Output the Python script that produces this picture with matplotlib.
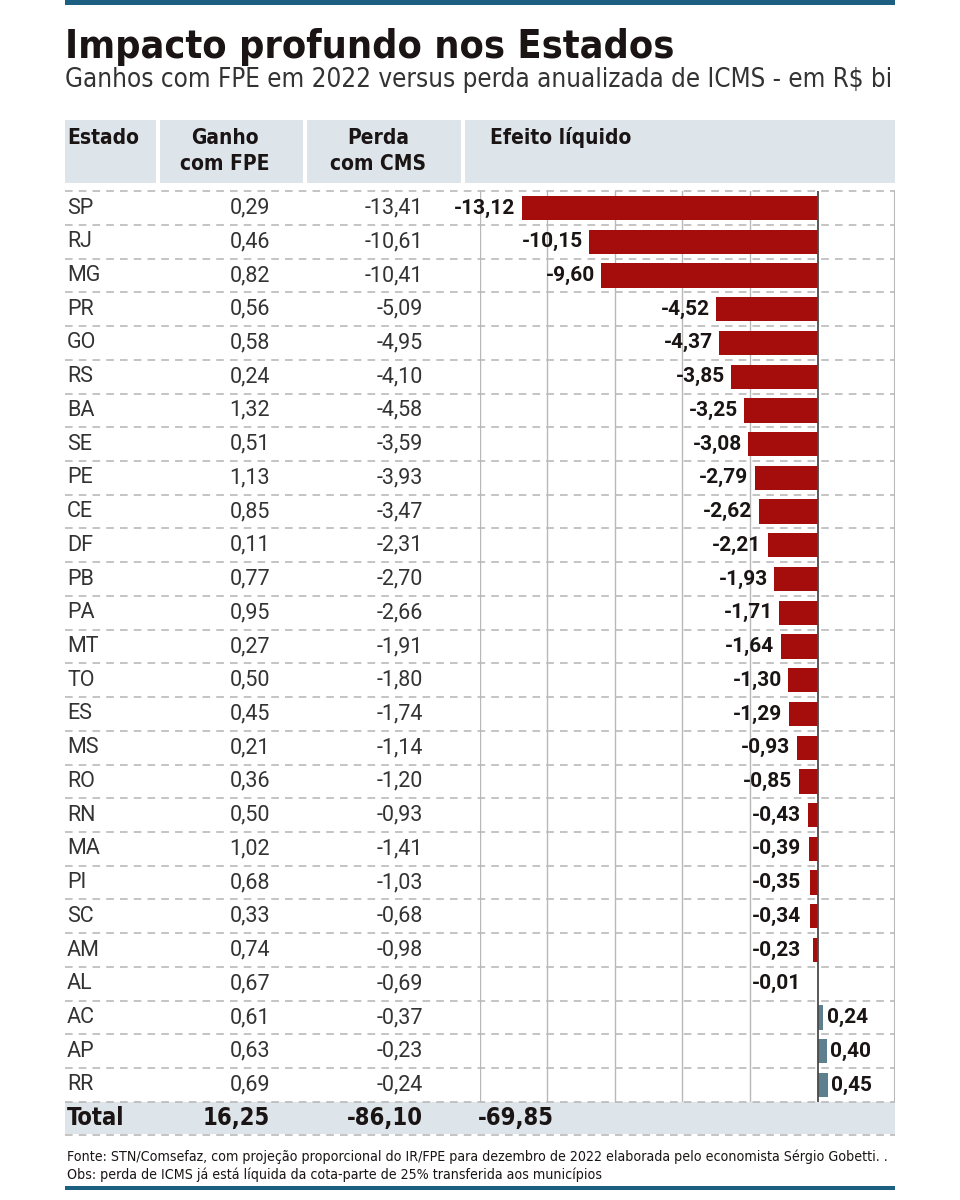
import matplotlib
matplotlib.use("Agg")
import matplotlib.pyplot as plt
import matplotlib.font_manager as fm
from matplotlib.patches import Rectangle

# ---------------- data ----------------
estados = ["SP", "RJ", "MG", "PR", "GO", "RS", "BA", "SE", "PE", "CE", "DF", "PB", "PA", "MT",
           "TO", "ES", "MS", "RO", "RN", "MA", "PI", "SC", "AM", "AL", "AC", "AP", "RR"]
ganho = [0.29, 0.46, 0.82, 0.56, 0.58, 0.24, 1.32, 0.51, 1.13, 0.85, 0.11, 0.77, 0.95, 0.27,
         0.50, 0.45, 0.21, 0.36, 0.50, 1.02, 0.68, 0.33, 0.74, 0.67, 0.61, 0.63, 0.69]
perda = [-13.41, -10.61, -10.41, -5.09, -4.95, -4.10, -4.58, -3.59, -3.93, -3.47, -2.31, -2.70,
         -2.66, -1.91, -1.80, -1.74, -1.14, -1.20, -0.93, -1.41, -1.03, -0.68, -0.98, -0.69,
         -0.37, -0.23, -0.24]
efeito = [-13.12, -10.15, -9.60, -4.52, -4.37, -3.85, -3.25, -3.08, -2.79, -2.62, -2.21, -1.93,
          -1.71, -1.64, -1.30, -1.29, -0.93, -0.85, -0.43, -0.39, -0.35, -0.34, -0.23, -0.01,
          0.24, 0.40, 0.45]
total_ganho = 16.25
total_perda = -86.10
total_efeito = -69.85
grid_ticks = [-15, -12, -9, -6, -3]

title = "Impacto profundo nos Estados"
subtitle = "Ganhos com FPE em 2022 versus perda anualizada de ICMS - em R$ bi"
headers = ["Estado", "Ganho\ncom FPE", "Perda\ncom CMS", "Efeito líquido"]
footer1 = ("Fonte: STN/Comsefaz, com projeção proporcional do IR/FPE para dezembro de 2022 "
           "elaborada pelo economista Sérgio Gobetti. .")
footer2 = "Obs: perda de ICMS já está líquida da cota-parte de 25% transferida aos municípios"

# ---------------- fonts ----------------
names = {f.name for f in fm.fontManager.ttflist}
COND = "Liberation Sans Narrow" if "Liberation Sans Narrow" in names else "DejaVu Sans"
BODY = "Roboto" if "Roboto" in names else "DejaVu Sans"


def fmt(v):
    return f"{v:.2f}".replace(".", ",")


W, H = 960, 1200
fig = plt.figure(figsize=(9.6, 12), dpi=100)
fig.patch.set_facecolor("white")
bg = fig.add_axes([0, 0, 1, 1])
bg.set_xlim(0, W)
bg.set_ylim(H, 0)
bg.axis("off")

BLUE = "#1c5f80"
BAND = "#dde4ea"
DASH = "#b4b4b4"
TXT = "#333333"
DARK = "#1a1414"
RED = "#a50d0d"
SLATE = "#5d7f8e"

L, R = 65, 895
row0 = 208.0
rh = 33.73
n = len(estados)
top_tab = row0 - rh / 2
bot_tab = top_tab + n * rh

renderer = fig.canvas.get_renderer()


def fit(t, width):
    bb = t.get_window_extent(renderer)
    t.set_fontsize(t.get_fontsize() * width / bb.width)


# blue rules
bg.add_patch(Rectangle((L, 0), R - L, 5, color=BLUE, lw=0))
bg.add_patch(Rectangle((L, 1186), R - L, 4, color=BLUE, lw=0))

# title & subtitle
t = bg.text(L, 58, title, fontsize=34, fontweight="heavy", family=[COND, "DejaVu Sans"],
            fontstretch="condensed", color=DARK, ha="left", va="baseline")
fit(t, 610)
t = bg.text(L, 87, subtitle, fontsize=20, family=[COND, "DejaVu Sans"],
            fontstretch="condensed", color=TXT, ha="left", va="baseline")
fit(t, 826)

# header band
bg.add_patch(Rectangle((L, 120), R - L, 63, color=BAND, lw=0))
for x in [158, 305, 463]:
    bg.plot([x, x], [120, 183], color="white", lw=3)
hfont = dict(fontsize=15, fontweight="bold", family=[COND, "DejaVu Sans"],
             fontstretch="condensed", color=DARK, linespacing=1.4)
bg.text(67, 138, headers[0], ha="left", va="center", **hfont)
bg.text(225, 151, headers[1], ha="center", va="center", multialignment="center", **hfont)
bg.text(378, 151, headers[2], ha="center", va="center", multialignment="center", **hfont)
bg.text(490, 138, headers[3], ha="left", va="center", **hfont)

# total band
bg.add_patch(Rectangle((L, bot_tab), R - L, 32, color=BAND, lw=0))

# dashed row separators
for k in range(n + 1):
    y = top_tab + k * rh
    bg.plot([L, R], [y, y], color=DASH, lw=1.1, ls=(0, (5, 4)))
bg.plot([L, R], [bot_tab + 33, bot_tab + 33], color=DASH, lw=1.1, ls=(0, (5, 4)))

# body text
bfont = dict(fontsize=15.5, family=[BODY, "DejaVu Sans"], color=TXT, va="center")
for i, (e, g, p) in enumerate(zip(estados, ganho, perda)):
    y = row0 + i * rh
    bg.text(67, y, e, ha="left", **bfont)
    bg.text(270, y, fmt(g), ha="right", **bfont)
    bg.text(423, y, fmt(p), ha="right", **bfont)

# total row
ty = bot_tab + 16
tfont = dict(fontsize=17, fontweight="bold", family=[COND, "DejaVu Sans"],
             fontstretch="condensed", color=DARK, va="center")
bg.text(67, ty, "Total", ha="left", **tfont)
bg.text(270, ty, fmt(total_ganho), ha="right", **tfont)
bg.text(423, ty, fmt(total_perda), ha="right", **tfont)
bg.text(478, ty, fmt(total_efeito), ha="left", **tfont)

# footer
ffont = dict(fontsize=10, family=[COND, "DejaVu Sans"], fontstretch="condensed",
             color=DARK, ha="left", va="center")
f1 = bg.text(67, 1157, footer1, **ffont)
fit(f1, 818)
f2 = bg.text(67, 1175, footer2, **ffont)
f2.set_fontsize(f1.get_fontsize())

# ---------------- bar chart ----------------
x0, x1 = 479.5, R
ax = fig.add_axes([x0 / W, 1 - bot_tab / H, (x1 - x0) / W, (bot_tab - top_tab) / H])
ax.patch.set_alpha(0)
ax.set_xlim(-15, -15 + (x1 - x0) / 22.55)
ax.set_ylim(n - 0.5, -0.5)
for s in ax.spines.values():
    s.set_visible(False)
ax.set_xticks([])
ax.set_yticks([])
for g in grid_ticks:
    ax.axvline(g, color="#b8b8b8", lw=1, zorder=1)
ax.axvline(ax.get_xlim()[1], color="#b8b8b8", lw=1.5, zorder=1)
ax.axvline(0, color="#4a4a4a", lw=1.3, zorder=3)

ypos = list(range(n))
colors = [RED if v < 0 else SLATE for v in efeito]
ax.barh(ypos, efeito, height=0.72, color=colors, zorder=2)
lfont = dict(fontsize=15, fontweight="bold", family=[BODY, "DejaVu Sans"], color=DARK,
             va="center")
for i, v in enumerate(efeito):
    if v < 0:
        ax.text(min(v, -0.45) - 0.28, i, fmt(v), ha="right", **lfont)
    else:
        ax.text(v + 0.15, i, fmt(v), ha="left", **lfont)

fig.savefig("out.png", dpi=100)
